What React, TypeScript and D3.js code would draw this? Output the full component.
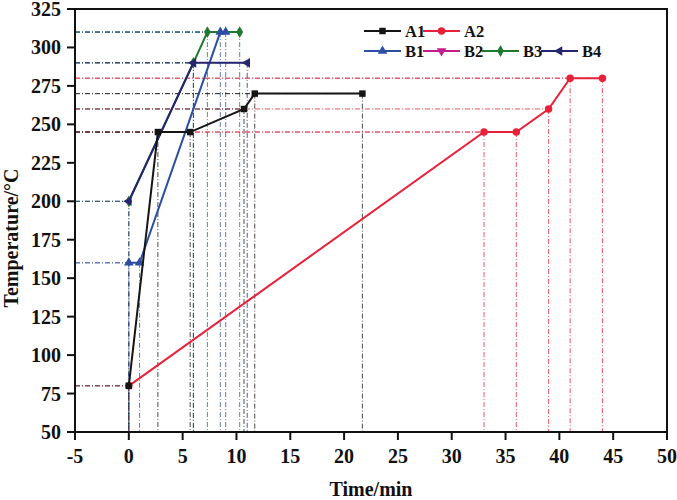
import React from 'react';
import * as d3 from 'd3';

type Pt = [number, number];

// heating schedules, time (min) vs temperature (°C)
const A1: Pt[] = [[0, 80], [2.7, 245], [5.7, 245], [10.7, 260], [11.7, 270], [21.7, 270]];
const A2: Pt[] = [[0, 80], [33, 245], [36, 245], [39, 260], [41, 280], [44, 280]];
const B1: Pt[] = [[0, 160], [1, 160], [8.5, 310], [9, 310]];
const B2: Pt[] = []; // runs under B1
const B3: Pt[] = [[0, 200], [6, 290], [7.3, 310], [10.3, 310]];
const B4: Pt[] = [[0, 200], [6, 290], [11, 290]];

const xTicks = d3.range(-5, 51, 5);
const yTicks = d3.range(50, 326, 25);

const width = 677;
const height = 500;
const margin = { top: 9, right: 10, bottom: 68, left: 75 };
const font = '"Liberation Serif", "Times New Roman", serif';

const series = [
  { name: 'A1', data: A1, color: '#151515', symbol: d3.symbolSquare, size: 42, rotate: 0 },
  { name: 'A2', data: A2, color: '#e8213a', symbol: d3.symbolCircle, size: 44, rotate: 0 },
  { name: 'B1', data: B1, color: '#2c4fa3', symbol: d3.symbolTriangle, size: 40, rotate: 0 },
  { name: 'B2', data: B2, color: '#c41c8e', symbol: d3.symbolTriangle, size: 40, rotate: 180 },
  { name: 'B3', data: B3, color: '#1f7a30', symbol: d3.symbolDiamond, size: 40, rotate: 0 },
  { name: 'B4', data: B4, color: '#25266f', symbol: d3.symbolTriangle, size: 40, rotate: -90 },
];

// draw order: green under navy, red under black
const drawOrder = ['A2', 'B3', 'B1', 'B2', 'B4', 'A1'];

export default function App() {
  const x = d3.scaleLinear().domain([-5, 50]).range([margin.left, width - margin.right]);
  const y = d3.scaleLinear().domain([50, 325]).range([height - margin.bottom, margin.top]);
  const line = d3.line<Pt>().x(d => x(d[0])).y(d => y(d[1]));
  const x0 = x(-5);
  const y0 = y(50);

  const ordered = drawOrder.map(n => series.find(s => s.name === n)!);

  return (
    <svg width={width} height={height} style={{ position: 'absolute', left: 0, top: 0, background: '#fff' }}>
      {/* drop lines to both axes */}
      {ordered.map(s => (
        <g key={'ref' + s.name} stroke={s.color} strokeWidth={0.9} strokeDasharray="5,2,1,2" opacity={0.85} fill="none">
          {s.data.map((d, i) => (
            <g key={i}>
              <line x1={x0} x2={x(d[0])} y1={y(d[1])} y2={y(d[1])} />
              <line x1={x(d[0])} x2={x(d[0])} y1={y(d[1])} y2={y0} />
            </g>
          ))}
        </g>
      ))}

      {ordered.map(s => (
        <g key={'s' + s.name}>
          {s.data.length > 0 && (
            <path d={line(s.data) || ''} fill="none" stroke={s.color} strokeWidth={2} />
          )}
          {s.data.map((d, i) => (
            <path
              key={i}
              d={d3.symbol().type(s.symbol).size(s.size)() || ''}
              transform={`translate(${x(d[0])},${y(d[1])}) rotate(${s.rotate})`}
              fill={s.color}
            />
          ))}
        </g>
      ))}

      {/* frame */}
      <rect x={x0} y={margin.top} width={x(50) - x0} height={y0 - margin.top} fill="none" stroke="#111" strokeWidth={2} />

      {/* axes */}
      <g fontFamily={font} fontWeight="bold" fontSize={20} fill="#111">
        {xTicks.map(t => (
          <g key={t}>
            <line x1={x(t)} x2={x(t)} y1={y0} y2={y0 + 8} stroke="#111" strokeWidth={2} />
            <text x={x(t)} y={y0 + 31} textAnchor="middle">{t}</text>
          </g>
        ))}
        {yTicks.map(t => (
          <g key={t}>
            <line x1={x0 - 8} x2={x0} y1={y(t)} y2={y(t)} stroke="#111" strokeWidth={2} />
            <text x={x0 - 14} y={y(t) + 7} textAnchor="end">{t}</text>
          </g>
        ))}
        <text x={(x0 + x(50)) / 2} y={496} textAnchor="middle">Time/min</text>
        <text transform={`translate(18,238) rotate(-90)`} textAnchor="middle">Temperature/°C</text>
      </g>

      {/* legend */}
      <g fontFamily={font} fontWeight="bold" fontSize={16.5} fill="#111">
        {series.map((s, i) => {
          const row = i < 2 ? 0 : 1;
          const col = i < 2 ? i : i - 2;
          const lx = 364 + col * 59;
          const ly = 31 + row * 20;
          return (
            <g key={'lg' + s.name}>
              <line x1={lx} x2={lx + 37} y1={ly} y2={ly} stroke={s.color} strokeWidth={2} />
              <path
                d={d3.symbol().type(s.symbol).size(s.size)() || ''}
                transform={`translate(${lx + 18.5},${ly}) rotate(${s.rotate})`}
                fill={s.color}
              />
              <text x={lx + 41} y={ly + 6}>{s.name}</text>
            </g>
          );
        })}
      </g>
    </svg>
  );
}
